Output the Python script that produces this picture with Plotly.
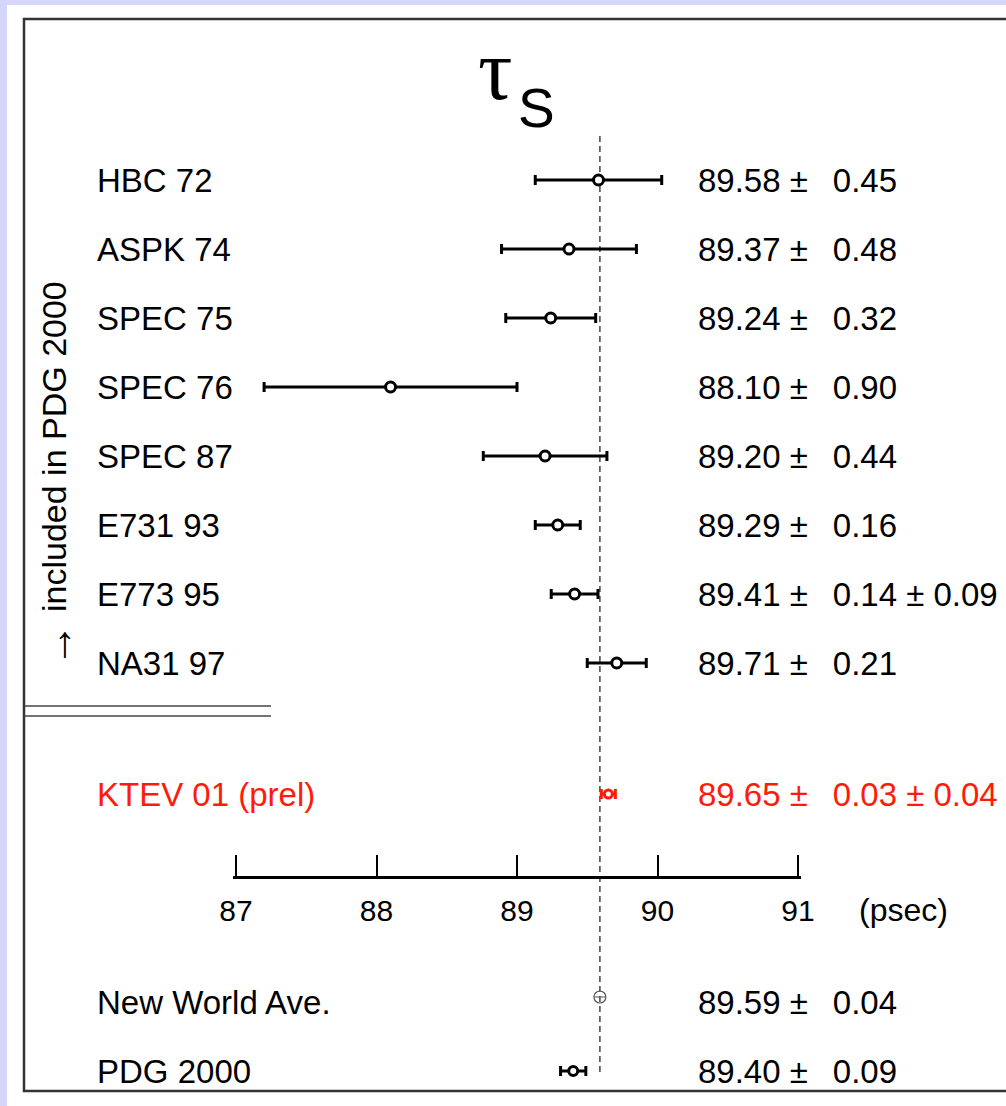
import plotly.graph_objects as go

# ---------------- data ----------------
labels = ["HBC 72", "ASPK 74", "SPEC 75", "SPEC 76", "SPEC 87", "E731 93", "E773 95", "NA31 97"]
values = [89.58, 89.37, 89.24, 88.10, 89.20, 89.29, 89.41, 89.71]
stat_err = [0.45, 0.48, 0.32, 0.90, 0.44, 0.16, 0.14, 0.21]
syst_err = [None, None, None, None, None, None, 0.09, None]

ktev_label = "KTEV 01 (prel)"
ktev_value = 89.65
ktev_stat = 0.03
ktev_syst = 0.04

avg_labels = ["New World Ave.", "PDG 2000"]
avg_values = [89.59, 89.40]
avg_err = [0.04, 0.09]

tick_vals = [87, 88, 89, 90, 91]
unit_label = "(psec)"
side_arrow = "\u2192"
side_note = "included in PDG 2000"

# ---------------- layout geometry (pixels) ----------------
W, H = 1006, 1106
X87_PX, X91_PX = 236, 798
ppu = (X91_PX - X87_PX) / (tick_vals[-1] - tick_vals[0])
xmin = tick_vals[0] - X87_PX / ppu
xmax = tick_vals[0] + (W - X87_PX) / ppu
EPS = 0.02  # small pad so that the end ticks are drawn
ax_lo, ax_hi = tick_vals[0] - EPS, tick_vals[-1] + EPS
dom_lo = (X87_PX - EPS * ppu) / W
dom_hi = (X91_PX + EPS * ppu) / W

row_y = [180 + 69 * i for i in range(len(labels))]
ktev_y = 794
avg_y = [997, 1071]
avg_text_y = [1002, 1071]
axis_y = 877

LAB_X = 95 / W
VAL_X = 696 / W
FONT = "Liberation Sans, Arial, Helvetica, sans-serif"
SERIF = "Liberation Serif, Times New Roman, serif"
RED = "#ff1a0a"
GAP = "\u00a0\u2009 "
LFS = 33   # label font size
VFS = 33   # value font size


def fmt(v, s, sy=None):
    t = f"{v:.2f} \u00b1{GAP}{s:.2f}"
    if sy is not None:
        t += f" \u00b1 {sy:.2f}"
    return t


def total(s, sy):
    return (s ** 2 + (sy or 0) ** 2) ** 0.5


fig = go.Figure()

# main measurements
fig.add_trace(go.Scatter(
    x=values, y=row_y, mode="markers",
    marker=dict(symbol="circle", size=10, color="white", line=dict(color="black", width=3)),
    error_x=dict(type="data", array=[total(s, sy) for s, sy in zip(stat_err, syst_err)],
                 color="black", thickness=3, width=5),
    showlegend=False, hoverinfo="skip"))

# KTEV
fig.add_trace(go.Scatter(
    x=[ktev_value], y=[ktev_y], mode="markers",
    marker=dict(symbol="circle", size=8, color="white", line=dict(color=RED, width=3)),
    error_x=dict(type="data", array=[total(ktev_stat, ktev_syst)],
                 color=RED, thickness=3, width=5),
    showlegend=False, hoverinfo="skip"))

# New world average (thin grey)
fig.add_trace(go.Scatter(
    x=[avg_values[0]], y=[avg_y[0]], mode="markers",
    marker=dict(symbol="circle", size=12, color="rgba(255,255,255,0)", line=dict(color="#555555", width=1.2)),
    error_x=dict(type="data", array=[avg_err[0]], color="#555555", thickness=1, width=0),
    showlegend=False, hoverinfo="skip"))

# PDG 2000
fig.add_trace(go.Scatter(
    x=[avg_values[1]], y=[avg_y[1]], mode="markers",
    marker=dict(symbol="circle", size=9, color="white", line=dict(color="black", width=3)),
    error_x=dict(type="data", array=[avg_err[1]], color="black", thickness=3, width=5),
    showlegend=False, hoverinfo="skip"))

# invisible trace to carry the psec scale axis
fig.add_trace(go.Scatter(x=tick_vals, y=[axis_y] * len(tick_vals), xaxis="x2", yaxis="y",
                         mode="markers", marker=dict(opacity=0), showlegend=False, hoverinfo="skip"))

shapes = []
# white panel
shapes.append(dict(type="rect", xref="paper", yref="paper", x0=7 / W, x1=1.0, y0=0, y1=1 - 5 / H,
                   fillcolor="white", line=dict(width=0), layer="below"))
# black frame
shapes.append(dict(type="rect", xref="paper", yref="paper", x0=24 / W, x1=1.0 + 4 / W, y0=1 - 1091 / H, y1=1 - 19 / H,
                   fillcolor="rgba(0,0,0,0)", line=dict(color="#333333", width=2.5), layer="above"))
# double separator lines
for yy in (706, 716):
    shapes.append(dict(type="line", xref="paper", yref="y", x0=24 / W, x1=271 / W, y0=yy, y1=yy,
                       line=dict(color="#444444", width=1.6)))
# dashed reference line at the new world average
shapes.append(dict(type="line", xref="x", yref="y", x0=avg_values[0], x1=avg_values[0], y0=136, y1=1072,
                   line=dict(color="#444444", width=1.5, dash="6px,4px"), layer="below"))

ann = []
for lab, v, s, sy, y in zip(labels, values, stat_err, syst_err, row_y):
    ann.append(dict(x=LAB_X, xref="paper", y=y, yref="y", text=lab, xanchor="left", yanchor="middle",
                    showarrow=False, font=dict(size=LFS, color="black", family=FONT)))
    ann.append(dict(x=VAL_X, xref="paper", y=y, yref="y", text=fmt(v, s, sy), xanchor="left", yanchor="middle",
                    showarrow=False, font=dict(size=VFS, color="black", family=FONT)))

ann.append(dict(x=LAB_X, xref="paper", y=ktev_y, yref="y", text=ktev_label, xanchor="left", yanchor="middle",
                showarrow=False, font=dict(size=LFS, color=RED, family=FONT)))
ann.append(dict(x=VAL_X, xref="paper", y=ktev_y, yref="y", text=fmt(ktev_value, ktev_stat, ktev_syst),
                xanchor="left", yanchor="middle", showarrow=False, font=dict(size=VFS, color=RED, family=FONT)))

for lab, v, e, y in zip(avg_labels, avg_values, avg_err, avg_text_y):
    ann.append(dict(x=LAB_X, xref="paper", y=y, yref="y", text=lab, xanchor="left", yanchor="middle",
                    showarrow=False, font=dict(size=LFS, color="black", family=FONT)))
    ann.append(dict(x=VAL_X, xref="paper", y=y, yref="y", text=fmt(v, e), xanchor="left", yanchor="middle",
                    showarrow=False, font=dict(size=VFS, color="black", family=FONT)))

# unit label
ann.append(dict(x=857 / W, xref="paper", y=910, yref="y", text=unit_label, xanchor="left", yanchor="middle",
                showarrow=False, font=dict(size=32, color="black", family=FONT)))

# side note (rotated)
ann.append(dict(x=54 / W, xref="paper", y=447, yref="y", text=side_note,
                textangle=-90, xanchor="center", yanchor="middle", showarrow=False,
                font=dict(size=34, color="black", family=FONT)))
ann.append(dict(x=56 / W, xref="paper", y=645, yref="y", text=side_arrow,
                textangle=-90, xanchor="center", yanchor="middle", showarrow=False,
                font=dict(size=44, color="black", family="Liberation Sans")))

# title tau_S
ann.append(dict(x=515 / W, xref="paper", y=102, yref="y", text="\u03c4", xanchor="right", yanchor="bottom",
                showarrow=False, font=dict(size=86, color="black", family=SERIF), yshift=-18))
ann.append(dict(x=516 / W, xref="paper", y=129, yref="y", text="S", xanchor="left", yanchor="bottom",
                showarrow=False, font=dict(size=55, color="black", family=FONT), yshift=-12))

fig.update_layout(
    width=W, height=H, margin=dict(l=0, r=0, t=0, b=0, pad=0, autoexpand=False),
    paper_bgcolor="#d6d6fa", plot_bgcolor="rgba(0,0,0,0)",
    xaxis=dict(range=[xmin, xmax], visible=False, fixedrange=True, automargin=False),
    yaxis=dict(range=[H, 0], visible=False, fixedrange=True, automargin=False),
    xaxis2=dict(domain=[dom_lo, dom_hi], range=[ax_lo, ax_hi],
                anchor="free", position=1 - axis_y / H, automargin=False,
                tickvals=tick_vals, ticktext=[str(t) for t in tick_vals],
                ticks="inside", ticklen=21, tickwidth=1.5, tickcolor="black",
                showline=True, linewidth=3, linecolor="black",
                showgrid=False, zeroline=False, ticklabelstandoff=6,
                tickfont=dict(size=30, color="black", family=FONT), fixedrange=True),
    shapes=shapes, annotations=ann, showlegend=False,
)

fig.write_html("out.html")
